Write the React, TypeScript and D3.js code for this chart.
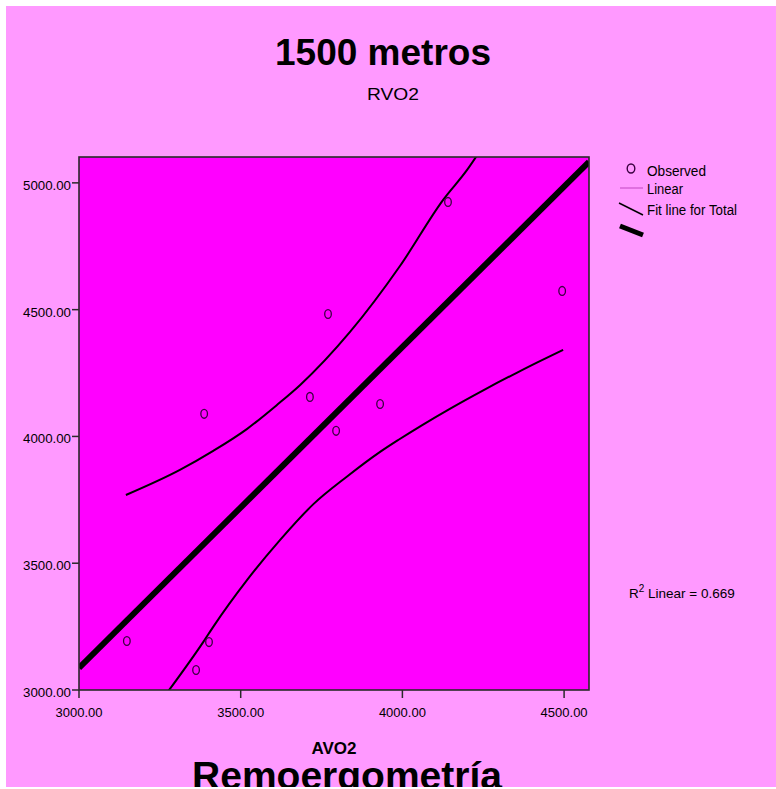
import React from "react";
import * as d3 from "d3";

// Observed values
const avo2 = [3148, 3362, 3402, 3387, 3714, 3770, 3795, 3931, 4141, 4494];
const rvo2 = [3193, 3079, 3189, 4089, 4156, 4483, 4022, 4128, 4925, 4574];

// Axis ticks
const xTicks = [3000, 3500, 4000, 4500];
const yTicks = [3000, 3500, 4000, 4500, 5000];

// Linear fit line (end points)
const fitX = [3000, 4577];
const fitY = [3087, 5083];

// Confidence band around the fit
const upperX = [3145, 3312, 3415, 3520, 3612, 3684, 3838, 3993, 4126, 4200, 4240];
const upperY = [3769, 3868, 3943, 4030, 4124, 4203, 4412, 4673, 4933, 5051, 5126];
const lowerX = [3270, 3384, 3415, 3520, 3622, 3724, 3829, 3931, 3987, 4060, 4148, 4250, 4355, 4430, 4497];
const lowerY = [2985, 3189, 3249, 3434, 3592, 3732, 3842, 3939, 3986, 4044, 4110, 4182, 4252, 4300, 4341];

const rSquared = 0.669;

const W = 776;
const H = 789;
const plot = { left: 79, right: 589, top: 157, bottom: 690 };
const FONT = "'Liberation Sans', Arial, sans-serif";

export default function App() {
  const x = d3.scaleLinear().domain([3000, 4577]).range([plot.left, plot.right]);
  const y = d3.scaleLinear().domain([3000, 5102]).range([plot.bottom, plot.top]);

  const curve = d3
    .line<[number, number]>()
    .x((d) => x(d[0]))
    .y((d) => y(d[1]))
    .curve(d3.curveMonotoneX);

  const upper = curve(upperX.map((v, i) => [v, upperY[i]] as [number, number])) || "";
  const lower = curve(lowerX.map((v, i) => [v, lowerY[i]] as [number, number])) || "";

  return (
    <svg
      width={W}
      height={H}
      style={{ position: "absolute", left: 0, top: 0, display: "block" }}
      fontFamily={FONT}
    >
      <defs>
        <clipPath id="plotClip">
          <rect x={plot.left} y={plot.top} width={plot.right - plot.left} height={plot.bottom - plot.top} />
        </clipPath>
        <clipPath id="pageClip">
          <rect x={6} y={6} width={W - 6} height={H - 8} />
        </clipPath>
      </defs>
      <rect x={0} y={0} width={W} height={H} fill="#ffffff" />
      <rect x={6} y={6} width={W - 6} height={H - 8} fill="#ff99ff" />

      {/* Titles */}
      <text x={383} y={65} textAnchor="middle" fontSize={37} fontWeight="bold" fill="#000">
        1500 metros
      </text>
      <text x={393} y={100} textAnchor="middle" fontSize={17} fill="#000" textLength={52} lengthAdjust="spacingAndGlyphs">
        RVO2
      </text>

      {/* Plot area */}
      <rect
        x={plot.left}
        y={plot.top}
        width={plot.right - plot.left}
        height={plot.bottom - plot.top}
        fill="#ff00ff"
      />

      <g clipPath="url(#plotClip)">
        <path d={upper} fill="none" stroke="#000" strokeWidth={2} />
        <path d={lower} fill="none" stroke="#000" strokeWidth={2} />
        <line
          x1={x(fitX[0])}
          y1={y(fitY[0])}
          x2={x(fitX[1])}
          y2={y(fitY[1])}
          stroke="#000"
          strokeWidth={6}
        />
        {avo2.map((v, i) => (
          <ellipse
            key={i}
            cx={x(v)}
            cy={y(rvo2[i])}
            rx={3.3}
            ry={4.4}
            fill="none"
            stroke="#3a0040"
            strokeWidth={1.3}
          />
        ))}
      </g>

      <rect
        x={plot.left}
        y={plot.top}
        width={plot.right - plot.left}
        height={plot.bottom - plot.top}
        fill="none"
        stroke="#2a2a2a"
        strokeWidth={1.6}
      />

      {/* X axis */}
      {xTicks.map((t) => (
        <g key={t}>
          <line x1={x(t)} x2={x(t)} y1={plot.bottom} y2={plot.bottom + 8} stroke="#2a2a2a" strokeWidth={1.5} />
          <text x={x(t)} y={717} textAnchor="middle" fontSize={13} fill="#000" textLength={47} lengthAdjust="spacingAndGlyphs">
            {d3.format(".2f")(t)}
          </text>
        </g>
      ))}

      {/* Y axis */}
      {yTicks.map((t) => (
        <g key={t}>
          <line x1={plot.left - 7} x2={plot.left} y1={y(t)} y2={y(t)} stroke="#2a2a2a" strokeWidth={1.5} />
          <text x={71} y={y(t) + 7} textAnchor="end" fontSize={13} fill="#000" textLength={48} lengthAdjust="spacingAndGlyphs">
            {d3.format(".2f")(t)}
          </text>
        </g>
      ))}

      <text x={334} y={754} textAnchor="middle" fontSize={17} fontWeight="bold" fill="#000">
        AVO2
      </text>
      <g clipPath="url(#pageClip)">
        <text x={347} y={789} textAnchor="middle" fontSize={39} fontWeight="bold" fill="#000">
          Remoergometría
        </text>
      </g>

      {/* Legend */}
      <ellipse cx={631} cy={168.5} rx={3.8} ry={4.5} fill="none" stroke="#3a0040" strokeWidth={1.4} />
      <text x={647} y={176} fontSize={14} fill="#000" textLength={59} lengthAdjust="spacingAndGlyphs">
        Observed
      </text>
      <line x1={620} x2={643} y1={188} y2={188} stroke="#cc55cc" strokeWidth={1.2} />
      <text x={647} y={194} fontSize={14} fill="#000" textLength={36} lengthAdjust="spacingAndGlyphs">
        Linear
      </text>
      <line x1={619} y1={203} x2={643} y2={215} stroke="#000" strokeWidth={1.5} />
      <text x={647} y={215} fontSize={14} fill="#000" textLength={90} lengthAdjust="spacingAndGlyphs">
        Fit line for Total
      </text>
      <line x1={620} y1={226} x2={643} y2={235} stroke="#000" strokeWidth={5} />

      {/* Goodness of fit */}
      <text x={629} y={598} fontSize={13.5} fill="#000">
        <tspan>R</tspan>
        <tspan dy={-6} fontSize={10}>2</tspan>
        <tspan dy={6}>{` Linear = ${d3.format(".3f")(rSquared)}`}</tspan>
      </text>
    </svg>
  );
}
